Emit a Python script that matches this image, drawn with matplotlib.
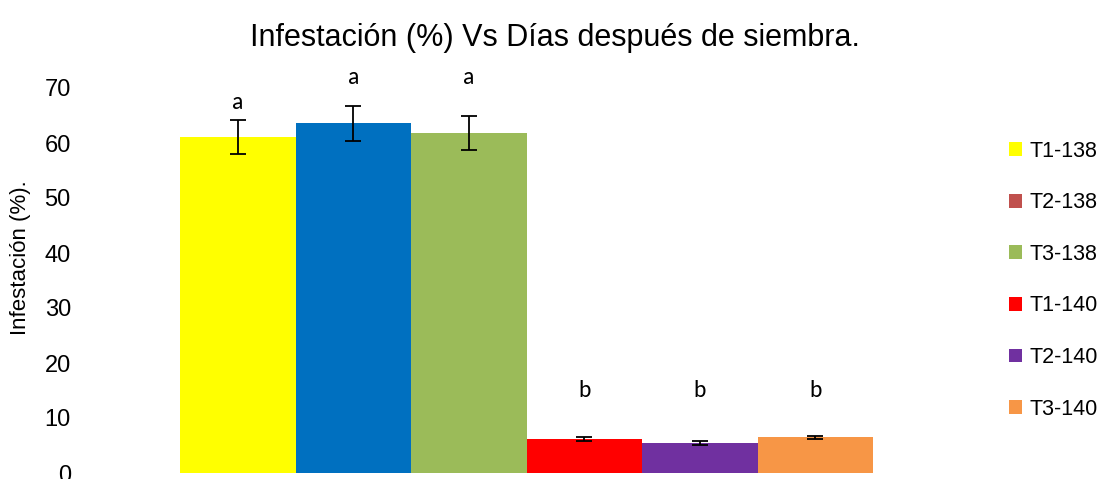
import matplotlib
matplotlib.use("Agg")
import matplotlib.pyplot as plt
from matplotlib.patches import Patch

# datos
tratamientos = ["T1-138", "T2-138", "T3-138", "T1-140", "T2-140", "T3-140"]
infestacion = [61.1, 63.6, 61.9, 6.2, 5.45, 6.5]
error = [3.1, 3.2, 3.1, 0.3, 0.3, 0.3]
letras = ["a", "a", "a", "b", "b", "b"]
letras_y = [67.3, 72.0, 72.0, 15.0, 15.0, 15.0]
colores_barra = ["#FFFF00", "#0070C0", "#9BBB59", "#FF0000", "#7030A0", "#F79646"]
colores_leyenda = ["#FFFF00", "#C0504D", "#9BBB59", "#FF0000", "#7030A0", "#F79646"]
yticks = [0, 10, 20, 30, 40, 50, 60, 70]

plt.rcParams['font.family'] = ['Liberation Sans', 'DejaVu Sans']

fig = plt.figure(figsize=(10.99, 4.79), dpi=100)
ax = fig.add_axes([75/1099, 1 - 473/479, 902/1099, (473 - 88)/479])

x = list(range(len(tratamientos)))
ax.bar(x, infestacion, width=1.0, color=colores_barra)
ax.errorbar(x, infestacion, yerr=error, fmt='none', ecolor='black',
            elinewidth=1.3, capsize=6, capthick=1.3)
for xi, l, ly in zip(x, letras, letras_y):
    ax.text(xi, ly, l, ha='center', va='center', fontsize=17,
            family=['Carlito', 'Liberation Sans', 'DejaVu Sans'], clip_on=False)

ax.set_xlim(-1.41, 6.40)
ax.set_ylim(0, 70)
ax.set_yticks(yticks)
ax.tick_params(axis='y', length=0, labelsize=17, pad=3)
ax.set_xticks([])
for s in ax.spines.values():
    s.set_visible(False)

ax.set_ylabel("Infestación (%).", fontsize=16)
ax.yaxis.set_label_coords(-0.049, 0.56)

fig.text(0.505, 1 - 38/479, "Infestación (%) Vs Días después de siembra.",
         fontsize=22, ha='center', va='center')

handles = [Patch(facecolor=c) for c in colores_leyenda]
fig.legend(handles, tratamientos, loc='center left', bbox_to_anchor=(0.918, 0.415),
           frameon=False, fontsize=15.5, handlelength=0.62, handleheight=0.62,
           handletextpad=0.35, labelspacing=1.42, borderpad=0, borderaxespad=0)

fig.savefig("out.png", dpi=100)
